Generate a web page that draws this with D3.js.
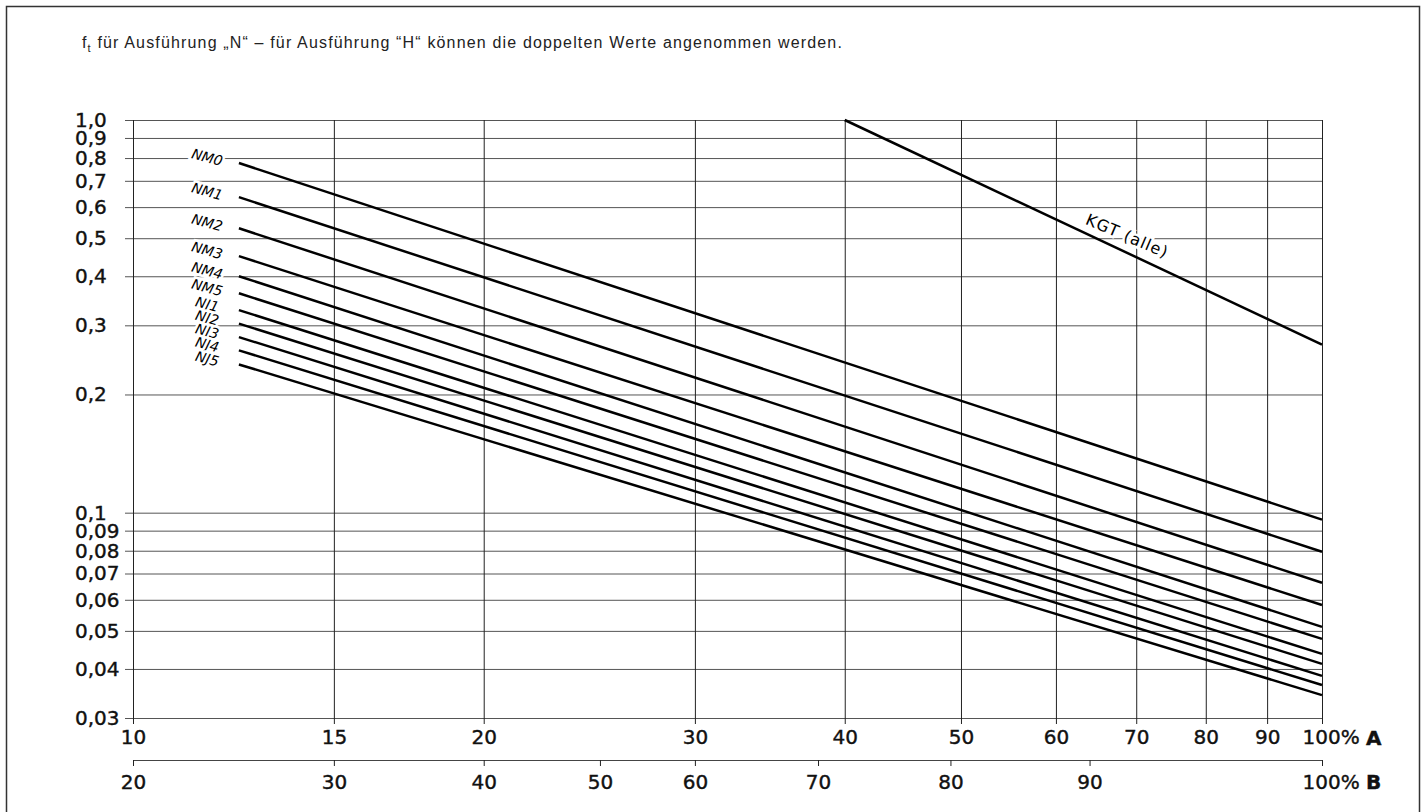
<!DOCTYPE html>
<html lang="de">
<head>
<meta charset="utf-8">
<title>ft Diagramm</title>
<script src="https://cdnjs.cloudflare.com/ajax/libs/d3/7.8.5/d3.min.js"></script>
<style>
  body { margin: 0; background: #fff; }
  svg { display: block; }
  .num { font-family: "DejaVu Sans", sans-serif; font-size: 20px; fill: #111; stroke: #111; stroke-width: 0.4px; }
</style>
</head>
<body>
<script>
// y ticks (log scale, decimal comma)
const yTicks = [1.0, 0.9, 0.8, 0.7, 0.6, 0.5, 0.4, 0.3, 0.2, 0.1, 0.09, 0.08, 0.07, 0.06, 0.05, 0.04, 0.03];
const yTickLabels = ["1,0", "0,9", "0,8", "0,7", "0,6", "0,5", "0,4", "0,3", "0,2", "0,1", "0,09", "0,08", "0,07", "0,06", "0,05", "0,04", "0,03"];

// scale A (the left end of the drawn axis sits at ~10.2 in the original)
const aTicks = [10.2, 15, 20, 30, 40, 50, 60, 70, 80, 90, 100];
const aTickLabels = ["10", "15", "20", "30", "40", "50", "60", "70", "80", "90", "100%"];

// scale B, given as positions on scale A
const bTicksOnA = [10.2, 15, 20, 25, 30, 38, 49, 64, 100];
const bTickLabels = ["20", "30", "40", "50", "60", "70", "80", "90", "100%"];

// curves: straight lines in log-log, from A=12.5 to A=100
const series = ["NM0", "NM1", "NM2", "NM3", "NM4", "NM5", "NJ1", "NJ2", "NJ3", "NJ4", "NJ5"];
const seriesX = [12.5, 100];
const startVals = [0.777, 0.636, 0.530, 0.450, 0.400, 0.362, 0.328, 0.303, 0.280, 0.259, 0.2385];
const endVals = [0.0960, 0.0795, 0.0663, 0.0582, 0.0512, 0.0477, 0.0437, 0.0412, 0.0384, 0.0364, 0.0343];

const kgtX = [40, 100];
const kgtY = [1.0, 0.268];

const w = 1425, h = 812;
const plotLeft = 133, plotRight = 1322, plotTop = 120, plotBottom = 718;

const svg = d3.select("body").append("svg")
  .attr("width", w)
  .attr("height", h);

// frame
svg.append("rect")
  .attr("x", 6.5).attr("y", 6.5)
  .attr("width", 1413).attr("height", 830)
  .attr("fill", "none")
  .attr("stroke", "#333")
  .attr("stroke-width", 1.5);

// heading
let title = svg.append("text")
  .attr("x", 82).attr("y", 48)
  .attr("font-family", "Liberation Sans, Arial, sans-serif")
  .attr("font-size", 16)
  .attr("fill", "#222");
title.append("tspan").text("f");
title.append("tspan").attr("font-size", 11).attr("dy", 4).text("t");
title.append("tspan").attr("dy", -4).text(" für Ausführung „N“ – für Ausführung “H“ können die doppelten Werte angenommen werden.");
// stretch a little to the printed width
let tw = title.node().getBBox().width;
let nChars = title.text().length;
title.attr("letter-spacing", Math.max(0, (761 - tw) / nChars));

let xScale = d3.scaleLog()
  .domain([10.2, 100])
  .range([plotLeft, plotRight]);

let yScale = d3.scaleLog()
  .domain([1.0, 0.03])
  .range([plotTop, plotBottom]);

// horizontal grid + y labels
let yAxis = d3.axisLeft(yScale)
  .tickValues(yTicks)
  .tickSize(plotRight - 125)
  .tickFormat((d, i) => yTickLabels[i]);

let gy = svg.append("g")
  .attr("transform", "translate(" + plotRight + ",0)")
  .call(yAxis);
gy.select(".domain").remove();
gy.selectAll("line").attr("stroke", "#555").attr("stroke-width", 1);
gy.selectAll("text")
  .attr("class", "num")
  .attr("x", 75 - plotRight)
  .attr("text-anchor", "start");
gy.attr("font-family", null).attr("font-size", null);

// vertical grid + scale A
let xAxis = d3.axisBottom(xScale)
  .tickValues(aTicks)
  .tickSize(-(724 - plotTop))
  .tickPadding(6)
  .tickFormat((d, i) => aTickLabels[i]);

let gx = svg.append("g")
  .attr("transform", "translate(0,724)")
  .call(xAxis);
gx.select(".domain").remove();
gx.selectAll("line").attr("stroke", "#222").attr("stroke-width", 1);
gx.selectAll("text").attr("class", "num");
gx.attr("font-family", null).attr("font-size", null);
gx.selectAll(".tick").filter((d, i) => i === aTicks.length - 1).select("text")
  .attr("text-anchor", "start").attr("x", -20);
svg.append("text").attr("class", "num")
  .attr("x", plotRight + 44).attr("y", 745)
  .attr("font-weight", "bold")
  .text("A");

// scale B
let bAxis = d3.axisBottom(xScale)
  .tickValues(bTicksOnA)
  .tickSize(6)
  .tickSizeOuter(0)
  .tickPadding(9)
  .tickFormat((d, i) => bTickLabels[i]);

let gb = svg.append("g")
  .attr("transform", "translate(0,760)")
  .call(bAxis);
gb.select(".domain").attr("stroke", "#444");
gb.selectAll("line").attr("stroke", "#222");
gb.selectAll("text").attr("class", "num");
gb.attr("font-family", null).attr("font-size", null);
gb.selectAll(".tick").filter((d, i) => i === bTicksOnA.length - 1).select("text")
  .attr("text-anchor", "start").attr("x", -20);
svg.append("text").attr("class", "num")
  .attr("x", plotRight + 44).attr("y", 789)
  .attr("font-weight", "bold")
  .text("B");

// curve labels (white halo breaks the grid like in the print)
svg.selectAll(".lbl")
  .data(series)
  .enter()
  .append("text")
  .attr("class", "lbl")
  .attr("transform", (d, i) => "translate(" + (xScale(seriesX[0]) - 33) + "," + (yScale(startVals[i]) - 1) + ") rotate(15)")
  .attr("text-anchor", "middle")
  .attr("font-family", "DejaVu Sans, sans-serif")
  .attr("font-style", "italic")
  .attr("font-size", 14)
  .attr("fill", "#000")
  .attr("stroke", "#fff")
  .attr("stroke-width", 5)
  .attr("paint-order", "stroke")
  .text((d) => d);

// KGT label
let kx = 68;
let kgtAt = (x) => Math.exp(Math.log(kgtY[0]) + (Math.log(x) - Math.log(kgtX[0])) / (Math.log(kgtX[1]) - Math.log(kgtX[0])) * (Math.log(kgtY[1]) - Math.log(kgtY[0])));
svg.append("text")
  .attr("transform", "translate(" + (xScale(kx) + 4) + "," + (yScale(kgtAt(kx)) - 9) + ") rotate(23)")
  .attr("text-anchor", "middle")
  .attr("font-family", "DejaVu Sans, sans-serif")
  .attr("font-size", 16)
  .attr("letter-spacing", 1)
  .attr("fill", "#000")
  .attr("stroke", "#fff")
  .attr("stroke-width", 5)
  .attr("paint-order", "stroke")
  .text("KGT (alle)");

// curves
let line = d3.line()
  .x((d) => xScale(d[0]))
  .y((d) => yScale(d[1]));

svg.selectAll(".curve")
  .data(series)
  .enter()
  .append("path")
  .attr("class", "curve")
  .attr("d", (d, i) => line([[seriesX[0], startVals[i]], [seriesX[1], endVals[i]]]))
  .attr("fill", "none")
  .attr("stroke", "#000")
  .attr("stroke-width", 2.5);

svg.append("path")
  .attr("d", line([[kgtX[0], kgtY[0]], [kgtX[1], kgtY[1]]]))
  .attr("fill", "none")
  .attr("stroke", "#000")
  .attr("stroke-width", 2.5);
</script>
</body>
</html>
